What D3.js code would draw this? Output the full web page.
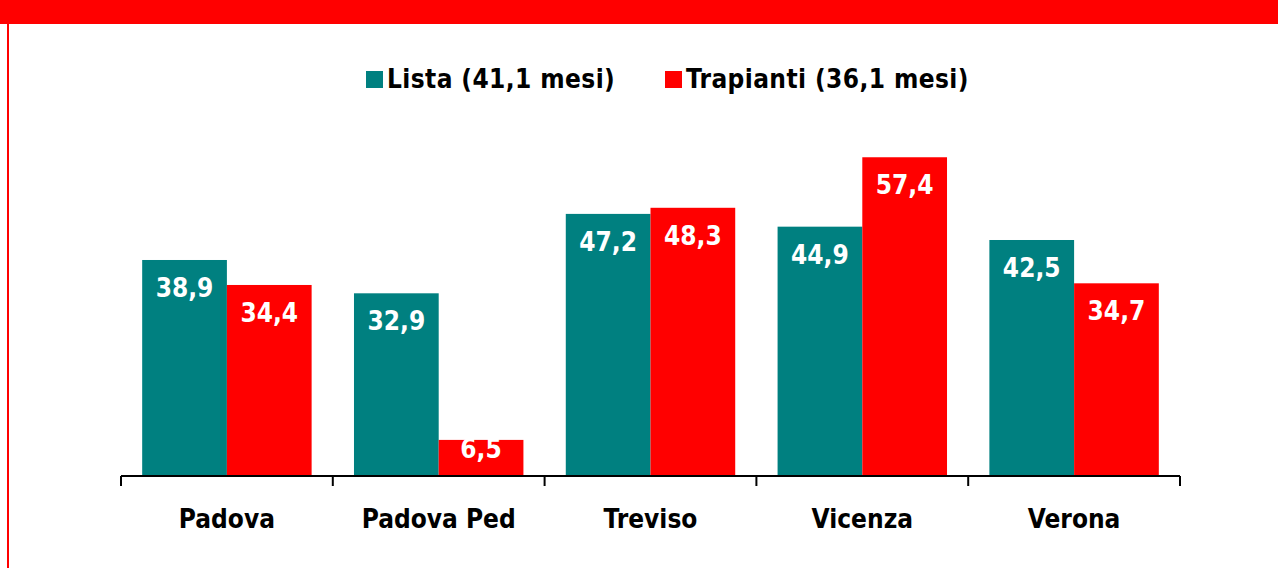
<!DOCTYPE html>
<html>
<head>
<meta charset="utf-8">
<script src="https://cdn.jsdelivr.net/npm/d3@7"></script>
<style>
  html, body { margin: 0; padding: 0; background: #fff; }
  svg { display: block; }
  text { font-family: "DejaVu Sans Condensed", "DejaVu Sans", sans-serif; font-weight: bold; }
</style>
</head>
<body>
<div id="chart"></div>
<script>
// centres and months
var categories = ["Padova", "Padova Ped", "Treviso", "Vicenza", "Verona"];
var seriesNames = ["Lista (41,1 mesi)", "Trapianti (36,1 mesi)"];
var listaValues = [38.9, 32.9, 47.2, 44.9, 42.5];
var trapiantiValues = [34.4, 6.5, 48.3, 57.4, 34.7];
var seriesColors = ["#008080", "#ff0000"];

var W = 1278, H = 568;
var baseY = 476;

var svg = d3.select("#chart").append("svg")
    .attr("width", W)
    .attr("height", H);

// red banner on top and left rule
svg.append("rect")
    .attr("x", 0).attr("y", 0)
    .attr("width", W).attr("height", 24)
    .style("fill", "#ff0000");
svg.append("rect")
    .attr("x", 7).attr("y", 24)
    .attr("width", 2).attr("height", H - 24)
    .style("fill", "#ff0000");

var xScale = d3.scaleBand()
    .domain(categories)
    .range([121, 1180])
    .paddingInner(0)
    .paddingOuter(0);

var xSub = d3.scaleBand()
    .domain(seriesNames)
    .range([0, xScale.bandwidth()])
    .paddingOuter(0.25);

var yScale = d3.scaleLinear()
    .domain([0, 60])
    .range([baseY, baseY - 60 * 5.553]);

var rows = categories.map(function(c, i) {
    return {
        category: c,
        values: [
            { name: seriesNames[0], value: listaValues[i], color: seriesColors[0] },
            { name: seriesNames[1], value: trapiantiValues[i], color: seriesColors[1] }
        ]
    };
});

var fmt = function(v) {
    return d3.format(".1f")(v).replace(".", ",");
};

var groups = svg.selectAll(".group")
    .data(rows)
    .enter().append("g")
    .attr("class", "group")
    .attr("transform", function(d) {
        return "translate(" + xScale(d.category) + ",0)";
    });

var bars = groups.selectAll(".bar")
    .data(function(d) { return d.values; })
    .enter().append("g")
    .attr("class", "bar");

bars.append("rect")
    .attr("x", function(d) { return xSub(d.name); })
    .attr("y", function(d) { return yScale(d.value); })
    .attr("width", xSub.bandwidth())
    .attr("height", function(d) { return baseY - yScale(d.value); })
    .style("fill", function(d) { return d.color; });

// value labels inside the top of each bar
bars.append("text")
    .attr("x", function(d) { return xSub(d.name) + xSub.bandwidth() / 2; })
    .attr("y", function(d) { return Math.min(yScale(d.value) + 37, baseY - 18); })
    .style("text-anchor", "middle")
    .style("font-size", "26px")
    .style("fill", "#fff")
    .text(function(d) { return fmt(d.value); });

// x axis: line, ticks between categories, labels
var xAxis = d3.axisBottom(xScale)
    .tickSize(0)
    .tickPadding(0)
    .tickSizeOuter(0);

var axisG = svg.append("g")
    .attr("transform", "translate(0," + baseY + ")")
    .call(xAxis);
axisG.select(".domain").remove();
axisG.selectAll(".tick line").remove();
axisG.selectAll(".tick text")
    .attr("y", 52)
    .attr("dy", 0)
    .style("font-size", "26px")
    .style("font-family", "'DejaVu Sans Condensed', 'DejaVu Sans', sans-serif")
    .style("fill", "#000");

var bounds = categories.map(function(c) { return xScale(c); }).concat([xScale.range()[1]]);
axisG.append("line")
    .attr("x1", xScale.range()[0]).attr("x2", xScale.range()[1])
    .attr("y1", 0).attr("y2", 0)
    .style("stroke", "#000").style("stroke-width", 2);
axisG.selectAll(".sep")
    .data(bounds)
    .enter().append("line")
    .attr("class", "sep")
    .attr("x1", function(d) { return d; })
    .attr("x2", function(d) { return d; })
    .attr("y1", 0).attr("y2", 10)
    .style("stroke", "#000").style("stroke-width", 2);

// legend
var legendX = [366, 665];
var legend = svg.selectAll(".legend")
    .data(seriesNames)
    .enter().append("g")
    .attr("class", "legend")
    .attr("transform", function(d, i) { return "translate(" + legendX[i] + ",71)"; });
legend.append("rect")
    .attr("width", 17).attr("height", 17)
    .style("fill", function(d, i) { return seriesColors[i]; });
legend.append("text")
    .attr("x", 21).attr("y", 17)
    .style("font-size", "26px")
    .style("letter-spacing", "0.4px")
    .style("fill", "#000")
    .text(function(d) { return d; });
</script>
</body>
</html>
